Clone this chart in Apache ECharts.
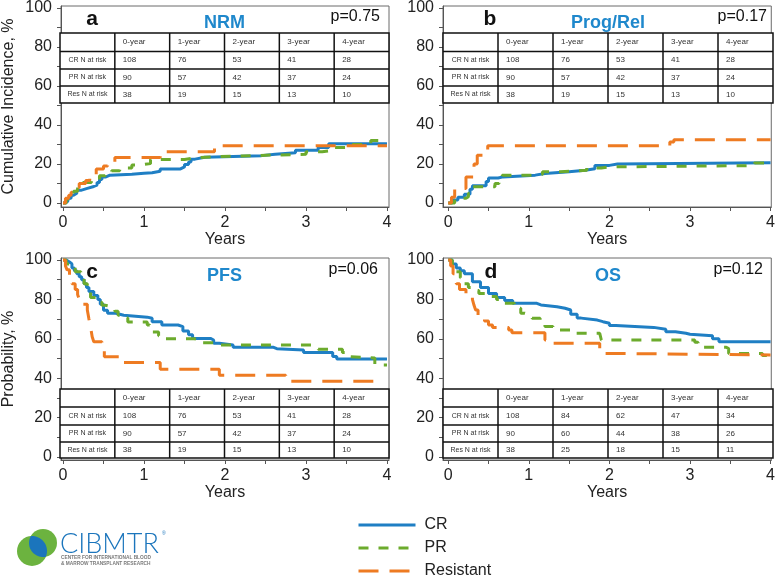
<!DOCTYPE html>
<html><head><meta charset="utf-8">
<script src="https://cdn.jsdelivr.net/npm/echarts@6/dist/echarts.min.js"></script>
<style>html,body{margin:0;padding:0;background:#fff}#c{width:778px;height:578px}</style>
</head><body><div id="c"></div>
<script>
// ---------- data ----------
const xTickLabels = [0, 1, 2, 3, 4];
const xTicks = [0, 0.5, 1, 1.5, 2, 2.5, 3, 3.5, 4];
const yTickLabels = [0, 20, 40, 60, 80, 100];
const yTicks = [0, 10, 20, 30, 40, 50, 60, 70, 80, 90, 100];
const groups = ['CR', 'PR', 'Resistant'];
const panelLetters = ['a', 'b', 'c', 'd'];
const panelTitles = ['NRM', 'Prog/Rel', 'PFS', 'OS'];
const pValues = ['p=0.75', 'p=0.17', 'p=0.06', 'p=0.12'];
const tableHeader = ['', '0-year', '1-year', '2-year', '3-year', '4-year'];
const rowLabels = ['CR N at risk', 'PR N at risk', 'Res N at risk'];
const riskCR = [108, 76, 53, 41, 28];
const riskPR = [90, 57, 42, 37, 24];
const riskRes = [38, 19, 15, 13, 10];
const riskCR_OS = [108, 84, 62, 47, 34];
const riskPR_OS = [90, 60, 44, 38, 26];
const riskRes_OS = [38, 25, 18, 15, 11];

// NRM (cumulative incidence, %)
const nrmCR = [[0,0],[0.03,1],[0.06,2.5],[0.1,4],[0.13,5],[0.17,6.5],[0.22,7.5],[0.3,8.5],[0.38,9.2],[0.42,10.5],[0.45,12],[0.48,13.4],[0.53,14.3],[0.58,14.8],[0.85,15.3],[1.0,15.5],[1.1,16.3],[1.2,17.5],[1.45,18.5],[1.5,19.8],[1.55,21],[1.58,22.5],[1.63,23.5],[1.75,24.3],[2.45,25],[2.62,25.8],[2.87,27],[3.15,28.5],[3.28,30.4],[4,30.4]];
const nrmPR = [[0,0],[0.04,2],[0.08,4],[0.13,6],[0.18,9],[0.22,10.5],[0.35,12],[0.45,14],[0.52,15.3],[0.6,16.5],[0.7,18],[0.85,19.5],[0.95,20.2],[1.08,22.3],[1.5,23.3],[1.65,23.8],[1.9,24.5],[2.5,25],[3.0,26.3],[3.2,27],[3.35,28.5],[3.5,30],[3.8,32],[4,32]];
const nrmRes = [[0,0],[0.03,2.5],[0.07,4],[0.1,5.5],[0.15,8],[0.2,10],[0.28,11.5],[0.33,13],[0.37,14.5],[0.41,17.5],[0.5,19],[0.55,20.5],[0.64,23.3],[1.2,26.3],[1.87,29.4],[4,29.4]];

// Progression / relapse (cumulative incidence, %)
const relCR = [[0,0],[0.05,1.5],[0.12,3],[0.2,4.5],[0.27,7],[0.3,8.8],[0.47,11],[0.5,12.8],[0.62,13.4],[0.68,14.3],[1.08,15.1],[1.2,16],[1.5,16.8],[1.7,17.6],[1.82,19.3],[2.0,20],[2.1,20.6],[4,20.6]];
const relPR = [[0,0],[0.08,2.4],[0.22,3.2],[0.25,5],[0.28,8.3],[0.58,10],[0.63,12.6],[0.67,14.3],[1.08,14.8],[1.17,16],[1.4,16.8],[1.72,18],[1.9,18.5],[2.0,19.2],[3.8,20.5],[3.95,21],[4,21]];
const relRes = [[0,0],[0.04,3],[0.08,7.5],[0.22,13.4],[0.32,20],[0.36,24.5],[0.45,27],[0.49,29.4],[2.75,31.3],[2.8,32.5],[4,32.5]];

// PFS (probability, %)
const pfsCR = [[0,100],[0.04,99],[0.08,98],[0.11,96],[0.14,94.5],[0.17,93],[0.2,91.5],[0.23,90],[0.26,88],[0.29,86],[0.32,84],[0.38,82],[0.43,80],[0.46,77.5],[0.5,74.5],[0.55,73],[0.65,72],[0.75,71],[1.04,70.4],[1.1,68.7],[1.22,67],[1.42,66.2],[1.48,64],[1.55,62],[1.6,60.2],[1.82,59.4],[1.86,57.7],[1.93,56.9],[2.1,55.7],[2.6,55],[2.64,54.3],[2.97,53.1],[3.33,51],[3.38,49.7],[4,49.7]];
const pfsPR = [[0,100],[0.04,98],[0.08,96.6],[0.15,94],[0.22,92],[0.26,88],[0.3,84],[0.34,81],[0.42,78.5],[0.48,77],[0.52,76],[0.64,74],[0.68,72],[0.72,70.5],[0.8,68.5],[1.04,67],[1.07,65],[1.1,63.5],[1.18,61.5],[1.25,60],[1.62,59.4],[1.7,58],[1.86,56.9],[3.1,56],[3.15,54.7],[3.45,53],[3.48,51],[3.52,50.2],[3.85,46.7],[4,46.7]];
const pfsRes = [[0,100],[0.03,97],[0.05,95],[0.08,92],[0.11,88],[0.15,85],[0.18,82.5],[0.2,80],[0.25,77.5],[0.3,74.6],[0.32,70],[0.34,66],[0.36,61],[0.38,58.5],[0.48,55],[0.51,50.9],[0.73,48],[1.2,44.6],[1.93,41.5],[2.75,38.5],[3.92,38.5]];

// OS (probability, %)
const osCR = [[0,100],[0.05,98],[0.1,96],[0.15,94.5],[0.2,93],[0.3,89],[0.4,86],[0.5,83],[0.6,81],[0.7,79.5],[0.8,78],[1.1,77.2],[1.15,76.3],[1.35,75.5],[1.45,74.6],[1.52,72.5],[1.6,70.5],[1.65,69.5],[1.85,68.7],[1.92,67.9],[2.0,66.7],[2.08,65.8],[2.55,64.8],[2.7,63.6],[2.82,62.8],[2.95,62.3],[3.0,61.5],[3.28,60],[3.36,58.5],[4,58.5]];
const osPR = [[0,100],[0.05,97],[0.1,94],[0.15,91],[0.2,88],[0.25,86],[0.3,84.5],[0.38,83],[0.5,81.5],[0.6,80],[0.7,78],[0.82,75.5],[0.9,73],[0.95,72],[1.04,70.4],[1.14,68],[1.2,66.2],[1.3,64.5],[1.55,62.8],[1.88,62],[1.9,59.4],[3.06,58.2],[3.1,55.7],[3.45,55],[3.48,52.6],[3.9,51.5],[3.97,50.1],[4,50.1]];
const osRes = [[0,100],[0.03,97],[0.06,93],[0.1,88],[0.14,85],[0.22,82],[0.3,80],[0.32,77],[0.34,74.6],[0.37,71.2],[0.45,69],[0.5,67],[0.55,65.8],[0.75,64.5],[0.79,63.1],[1.2,59.4],[1.25,57.7],[1.88,54.7],[1.94,52.6],[1.98,51.8],[4,51.8]];

// ---------- layout / style ----------
const FONT = 'Liberation Sans, Arial, sans-serif';
const colors = ['#1f7fc4', '#6cab2d', '#ee7b22'];
const dashes = ['solid', [10, 10], [20, 11]];
const boxes = [
  {left: 60, top: 5, width: 329, height: 202, xmin: -0.025, xmax: 4.025, ymin: -2.04, ymax: 101.02, letterDx: 32, pDx: 9, table: [28, 46.5, 64, 81, 98]},
  {left: 443, top: 5, width: 330, height: 202, xmin: -0.065, xmax: 4.009, ymin: -2.04, ymax: 101.02, letterDx: 47, pDx: 6, table: [28, 46.5, 64, 81, 98]},
  {left: 60, top: 258, width: 329, height: 202, xmin: -0.025, xmax: 4.025, ymin: -1.52, ymax: 101.02, letterDx: 32, pDx: 11, table: [131, 149, 167, 184, 200]},
  {left: 443, top: 258, width: 330, height: 202, xmin: -0.065, xmax: 4.009, ymin: -1.52, ymax: 101.02, letterDx: 48, pDx: 10, table: [131, 149, 167, 184, 200]}
];
const legendTops = [517, 540, 563];
const panelData = [[nrmCR, nrmPR, nrmRes], [relCR, relPR, relRes], [pfsCR, pfsPR, pfsRes], [osCR, osPR, osRes]];
const panelRisk = [[riskCR, riskPR, riskRes], [riskCR, riskPR, riskRes], [riskCR, riskPR, riskRes], [riskCR_OS, riskPR_OS, riskRes_OS]];
const yNames = ['Cumulative Incidence, %', '', 'Probability, %', ''];

const grid = [], xAxis = [], yAxis = [], series = [], graphic = [];
boxes.forEach((b, i) => {
  grid.push({left: b.left, top: b.top, width: b.width, height: b.height, show: true, borderColor: '#6a6a6a', borderWidth: 1, backgroundColor: '#fff'});
  xAxis.push({
    type: 'value', gridIndex: i, min: b.xmin, max: b.xmax,
    name: 'Years', nameLocation: 'middle', nameGap: 24,
    nameTextStyle: {fontSize: 16, color: '#222', fontFamily: FONT},
    axisLine: {show: true, onZero: false, lineStyle: {color: '#555', width: 1}},
    axisTick: {show: true, inside: false, length: 4, customValues: xTicks, lineStyle: {color: '#555'}},
    axisLabel: {customValues: xTickLabels, fontSize: 16, color: '#222', fontFamily: FONT, margin: 8},
    splitLine: {show: false}
  });
  yAxis.push({
    type: 'value', gridIndex: i, min: b.ymin, max: b.ymax,
    name: yNames[i], nameLocation: 'middle', nameGap: 44,
    nameTextStyle: {fontSize: 16, color: '#222', fontFamily: FONT},
    axisLine: {show: true, onZero: false, lineStyle: {color: '#555', width: 1}},
    axisTick: {show: true, inside: false, length: 4, customValues: yTicks, lineStyle: {color: '#555'}},
    axisLabel: {customValues: yTickLabels, fontSize: 16, color: '#222', fontFamily: FONT, margin: 9},
    splitLine: {show: false}
  });
  panelData[i].forEach((d, k) => {
    series.push({
      type: 'line', name: groups[k], xAxisIndex: i, yAxisIndex: i, data: d,
      step: 'end', symbol: 'none', showSymbol: false, z: 3 + k,
      lineStyle: {color: colors[k], width: 3, type: dashes[k]},
      itemStyle: {color: colors[k]}
    });
  });

  // titles
  graphic.push({type: 'text', z: 100, x: b.left + b.letterDx, y: b.top + 14,
    style: {text: panelLetters[i], font: 'bold 21px ' + FONT, fill: '#111', align: 'center', verticalAlign: 'middle'}});
  graphic.push({type: 'text', z: 100, x: b.left + b.width / 2, y: b.top + 18,
    style: {text: panelTitles[i], font: 'bold 18px ' + FONT, fill: '#1f88cc', align: 'center', verticalAlign: 'middle'}});
  graphic.push({type: 'text', z: 100, x: b.left + b.width - b.pDx, y: b.top + 12,
    style: {text: pValues[i], font: '16px ' + FONT, fill: '#111', align: 'right', verticalAlign: 'middle'}});

  // at-risk table
  const rowsY = b.table.map(v => b.top + v);
  const colW = b.width / 6;
  const tTop = rowsY[0], tBot = rowsY[rowsY.length - 1];
  graphic.push({type: 'rect', z: 90, shape: {x: b.left, y: tTop, width: b.width, height: tBot - tTop},
    style: {fill: '#fff', stroke: '#111', lineWidth: 1.5}});
  rowsY.slice(1, -1).forEach(yy => graphic.push({type: 'line', z: 91,
    shape: {x1: b.left, y1: yy, x2: b.left + b.width, y2: yy}, style: {stroke: '#111', lineWidth: 1.5}}));
  for (let c = 1; c < 6; c++) {
    const xx = b.left + c * colW;
    graphic.push({type: 'line', z: 91, shape: {x1: xx, y1: tTop, x2: xx, y2: tBot}, style: {stroke: '#111', lineWidth: 1.5}});
  }
  for (let c = 1; c < 6; c++) {
    graphic.push({type: 'text', z: 92, x: b.left + c * colW + 8, y: (rowsY[0] + rowsY[1]) / 2,
      style: {text: tableHeader[c], font: '8px ' + FONT, fill: '#333', align: 'left', verticalAlign: 'middle'}});
  }
  panelRisk[i].forEach((arr, r) => {
    const yc = (rowsY[r + 1] + rowsY[r + 2]) / 2;
    graphic.push({type: 'text', z: 92, x: b.left + colW / 2, y: yc,
      style: {text: rowLabels[r], font: '7px ' + FONT, fill: '#333', align: 'center', verticalAlign: 'middle'}});
    arr.forEach((v, c) => graphic.push({type: 'text', z: 92, x: b.left + (c + 1) * colW + 8, y: yc,
      style: {text: String(v), font: '8px ' + FONT, fill: '#333', align: 'left', verticalAlign: 'middle'}}));
  });
});

// CIBMTR logo (two green circles, blue lens where they overlap)
function arcPts(cx, cy, r, a0, a1, n) {
  const pts = [];
  for (let j = 0; j <= n; j++) { const a = a0 + (a1 - a0) * j / n; pts.push([cx + r * Math.cos(a), cy + r * Math.sin(a)]); }
  return pts;
}
const C1 = [32, 551, 15], C2 = [43, 543, 14];
const deg = Math.PI / 180;
const lens = arcPts(C1[0], C1[1], C1[2], 265.6 * deg, 382.3 * deg, 24).concat(arcPts(C2[0], C2[1], C2[2], 78.1 * deg, 209.8 * deg, 24));
graphic.push({type: 'circle', z: 100, shape: {cx: C1[0], cy: C1[1], r: C1[2]}, style: {fill: '#6cb33f'}});
graphic.push({type: 'circle', z: 100, shape: {cx: C2[0], cy: C2[1], r: C2[2]}, style: {fill: '#6cb33f'}});
graphic.push({type: 'polygon', z: 101, shape: {points: lens}, style: {fill: '#1b75bc'}});
graphic.push({type: 'text', z: 100, x: 60, y: 544, style: {text: 'CIBMTR', font: '300 27px Lato, ' + FONT, fill: '#1b75bc', verticalAlign: 'middle'}});
graphic.push({type: 'text', z: 100, x: 162, y: 534, style: {text: '®', font: '5px ' + FONT, fill: '#1b75bc', verticalAlign: 'middle'}});
graphic.push({type: 'text', z: 100, x: 61, y: 558, style: {text: 'CENTER FOR INTERNATIONAL BLOOD', font: 'bold 4.8px ' + FONT, fill: '#7a7a7a', verticalAlign: 'middle'}});
graphic.push({type: 'text', z: 100, x: 61, y: 564, style: {text: '& MARROW TRANSPLANT RESEARCH', font: 'bold 4.8px ' + FONT, fill: '#7a7a7a', verticalAlign: 'middle'}});

const legend = groups.map((g, k) => ({
  data: [g], orient: 'vertical', left: 357, top: legendTops[k], padding: 0,
  itemWidth: 57, itemHeight: 14, itemGap: 0,
  itemStyle: {opacity: 0},
  lineStyle: {width: 3},
  textStyle: {fontSize: 16, lineHeight: 14, color: '#222', fontFamily: FONT, padding: [0, 0, 0, 4]}
}));

const chart = echarts.init(document.getElementById('c'), null, {renderer: 'canvas'});
chart.setOption({
  animation: false,
  backgroundColor: '#fff',
  textStyle: {fontFamily: FONT},
  grid, xAxis, yAxis, series, graphic, legend
});
</script></body></html>
